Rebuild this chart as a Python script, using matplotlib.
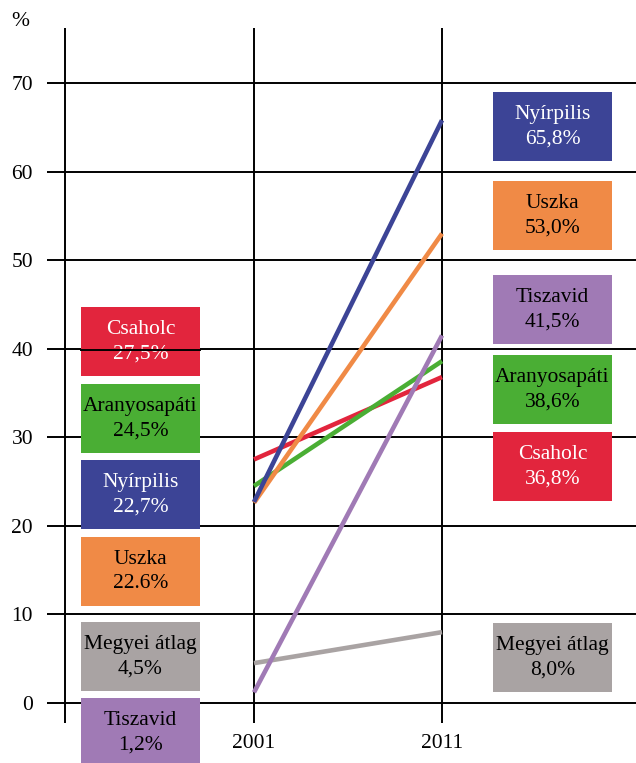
import matplotlib
matplotlib.use("Agg")
import matplotlib.pyplot as plt
from matplotlib.patches import Rectangle
from matplotlib.transforms import Affine2D

# ---- data ----
names = ['Csaholc', 'Aranyosapáti', 'Nyírpilis', 'Uszka', 'Megyei átlag', 'Tiszavid']
years = [2001, 2011]
v2001 = [27.5, 24.5, 22.7, 22.6, 4.5, 1.2]
v2011 = [36.8, 38.6, 65.8, 53.0, 8.0, 41.5]
lab2001 = ['27,5%', '24,5%', '22,7%', '22.6%', '4,5%', '1,2%']
lab2011 = ['36,8%', '38,6%', '65,8%', '53,0%', '8,0%', '41,5%']
yticks = [0, 10, 20, 30, 40, 50, 60, 70]
xtick_labels = ['2001', '2011']

# ---- styles / layout ----
colors = ['#E2253D', '#4AAE34', '#3C4496', '#F08A46', '#A9A3A3', '#A07AB5']
text_colors = ['white', 'black', 'white', 'black', 'black', 'black']
line_z = [3, 4, 5, 4.5, 2, 6]
left_box_top = [307, 384, 460, 537, 622, 698]
right_box_top = [432, 355, 92, 181, 623, 275]
W, H = 636, 763

plt.rcParams['font.family'] = ['Liberation Serif', 'DejaVu Serif']

fig = plt.figure(figsize=(W / 100, H / 100), dpi=100)
ax = fig.add_axes([47 / W, 1 - 723 / H, (W - 47) / W, (723 - 28) / H])

pxx = 18.8       # px per year
pxy = 8.857      # px per percent
ax.set_xlim(2001 - (254 - 47) / pxx, 2011 + (W - 442) / pxx)
ax.set_ylim(-(723 - 703) / pxy, 70 + (83 - 28) / pxy)

for s in ax.spines.values():
    s.set_visible(False)

# grid
for yv in yticks:
    ax.axhline(yv, color='black', lw=1.4, zorder=1)
for xv in [2001 - 189 / pxx, 2001, 2011]:
    ax.axvline(xv, color='black', lw=1.4, zorder=1)

ax.set_yticks(yticks)
ax.set_yticklabels([str(t) for t in yticks], fontsize=15.5)
ax.set_xticks(years)
ax.set_xticklabels(xtick_labels, fontsize=15.5)
ax.tick_params(length=0, pad=10)
ax.tick_params(axis='x', pad=8)

# series lines
for i, n in enumerate(names):
    ax.plot(years, [v2001[i], v2011[i]], color=colors[i], lw=3.3,
            solid_capstyle='butt', zorder=line_z[i])

# pixel transform (origin top-left)
pix = Affine2D().scale(1 / W, -1 / H).translate(0, 1) + fig.transFigure

def box(x0, ytop, w, h, color, tcolor, text):
    r = Rectangle((x0, ytop + h), w, -h, transform=pix, facecolor=color,
                  edgecolor='none', zorder=7, clip_on=False)
    ax.add_patch(r)
    ax.text(x0 + w / 2, ytop + h / 2, text, transform=pix, ha='center',
            va='center', color=tcolor, fontsize=15.5, linespacing=1.4,
            zorder=8, clip_on=False)

for i, n in enumerate(names):
    h = 69 if i < 5 else 70
    box(81, left_box_top[i], 119, h, colors[i], text_colors[i],
        n + '\n' + lab2001[i])
    box(493, right_box_top[i], 119, 69, colors[i], text_colors[i],
        n + '\n' + lab2011[i])

# the 40 gridline runs over the left Csaholc box
ax.plot([81, 200], [350, 350], transform=pix, color='black', lw=1.4,
        zorder=9, clip_on=False)

fig.text(20 / W, 1 - 22 / H, '%', ha='center', va='center', fontsize=15.5)

fig.savefig('out.png', dpi=100)
